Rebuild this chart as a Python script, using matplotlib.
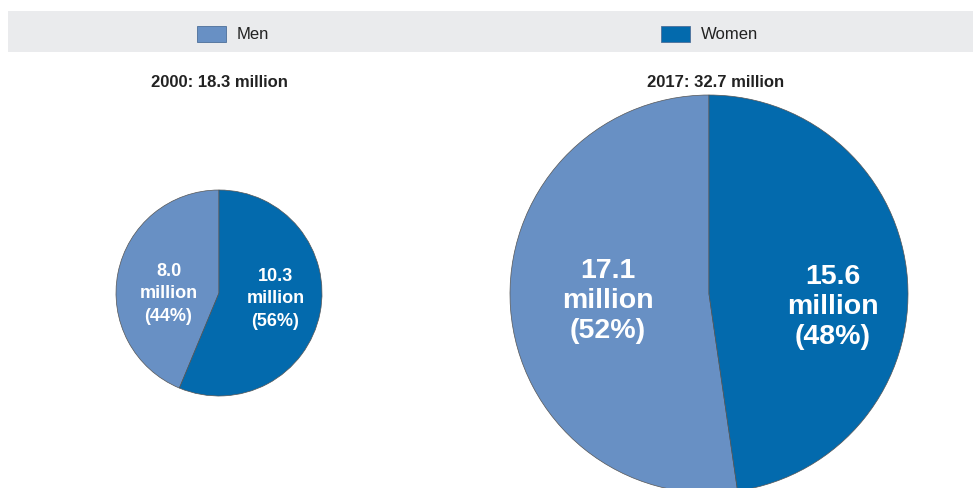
import matplotlib
matplotlib.use("Agg")
import matplotlib.pyplot as plt
from matplotlib.patches import Rectangle
import numpy as np

categories = ["Men", "Women"]
years = ["2000", "2017"]
totals = ["18.3", "32.7"]
values_2000 = [8.0, 10.3]
values_2017 = [17.1, 15.6]
pcts_2000 = [44, 56]
pcts_2017 = [52, 48]
colors = ["#6890C4", "#036AAD"]

FONT = ["Liberation Sans Narrow", "Liberation Sans", "DejaVu Sans"]
plt.rcParams["font.family"] = FONT

W, H = 973, 489
fig = plt.figure(figsize=(W / 100, H / 100), dpi=100)
ax = fig.add_axes([0, 0, 1, 1])
ax.set_xlim(0, W)
ax.set_ylim(0, H)
ax.set_aspect("equal")
ax.axis("off")

# legend band
ax.add_patch(Rectangle((8, H - 53), W - 8, 41, facecolor="#EAEBED", edgecolor="none", zorder=0))
leg_x = [197, 661]
for cat, col, lx in zip(categories, colors, leg_x):
    ax.add_patch(Rectangle((lx, H - 43), 29, 16, facecolor=col, edgecolor="#4d6f99", lw=0.6, zorder=1))
    ax.text(lx + 40, H - 35, cat, fontsize=12, color="#222222", va="center", ha="left")

pies = [
    dict(vals=values_2000, pcts=pcts_2000, center=(219, H - 294), r=103, fs=13, ls=1.42,
         dists=[0.5, 0.56], dy=[0, -5], title_x=219, year=years[0], total=totals[0]),
    dict(vals=values_2017, pcts=pcts_2017, center=(709, H - 295), r=199, fs=20.5, ls=1.22,
         dists=[0.51, 0.625], dy=[-6, -12], title_x=716, year=years[1], total=totals[1]),
]

for p in pies:
    wedges, _ = ax.pie(p["vals"], colors=colors, startangle=90, counterclock=True,
                       center=p["center"], radius=p["r"], frame=True,
                       wedgeprops=dict(edgecolor="#555555", linewidth=0.5))
    for w, v, pc, d, dy in zip(wedges, p["vals"], p["pcts"], p["dists"], p["dy"]):
        mid = np.deg2rad((w.theta1 + w.theta2) / 2)
        x = p["center"][0] + d * p["r"] * np.cos(mid)
        y = p["center"][1] + dy
        ax.text(x, y, f"{v:.1f}\nmillion\n({pc}%)", ha="center", va="center",
                fontsize=p["fs"], fontweight="bold", color="white", linespacing=p["ls"])
    ax.text(p["title_x"], H - 83, f"{p['year']}: {p['total']} million", ha="center", va="center",
            fontsize=12, fontweight="bold", color="#222222")

ax.set_xlim(0, W)
ax.set_ylim(0, H)
ax.axis("off")
fig.savefig("out.png", dpi=100)
